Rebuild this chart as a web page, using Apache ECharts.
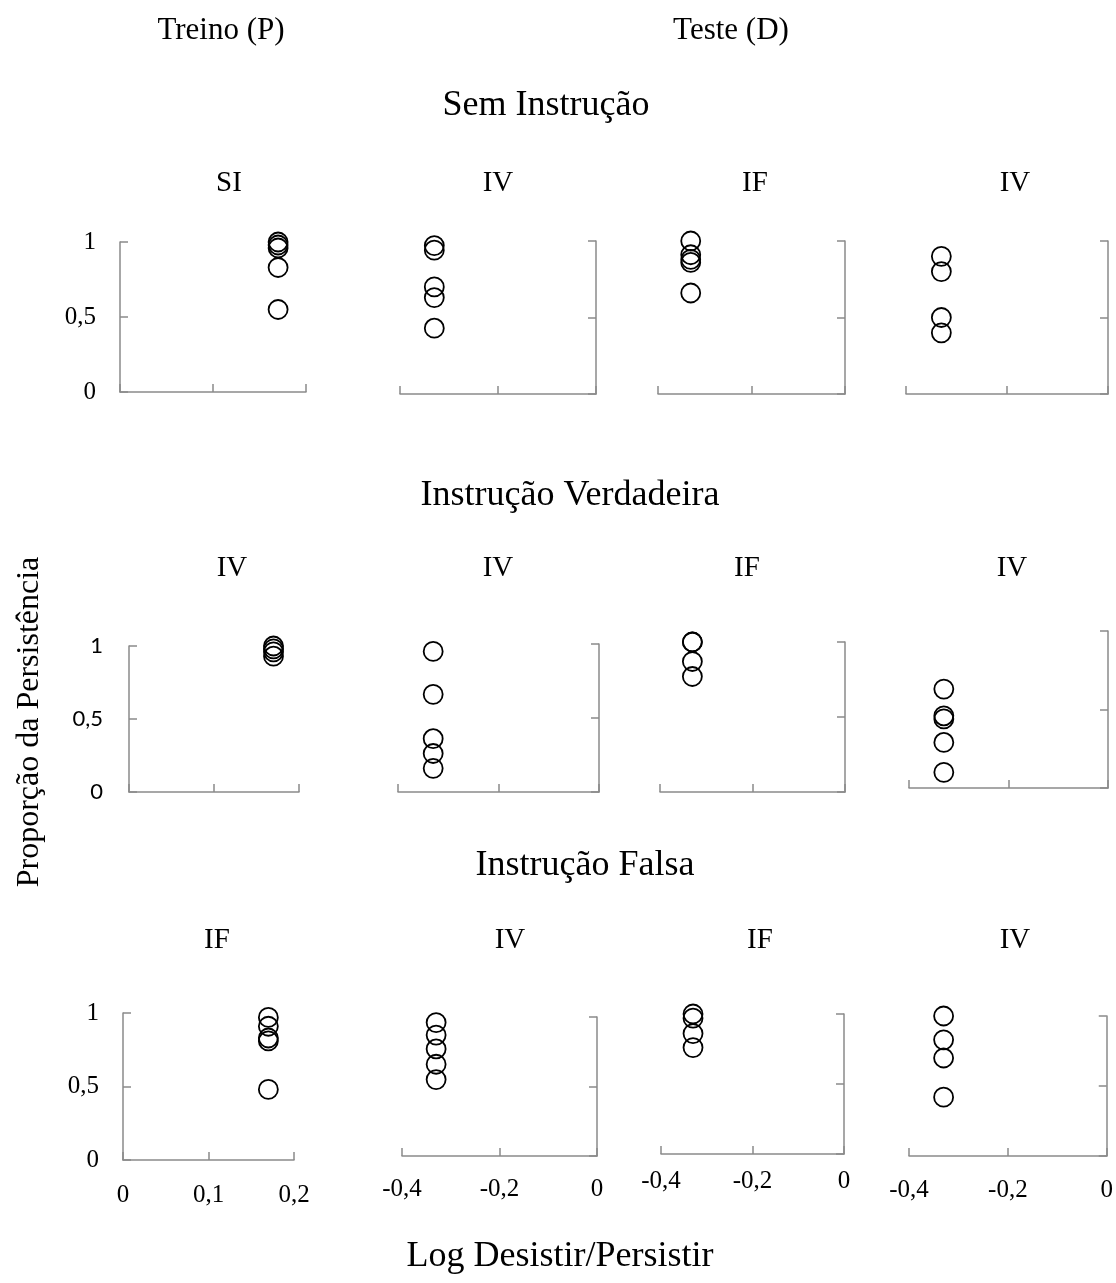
<!DOCTYPE html>
<html>
<head>
<meta charset="utf-8">
<script src="https://cdn.jsdelivr.net/npm/echarts@6/dist/echarts.min.js"></script>
<style>
  html, body { margin: 0; padding: 0; background: #fff; }
  #chart { width: 1116px; height: 1283px; }
</style>
</head>
<body>
<div id="chart"></div>
<script>
// Phase headers, conditions and panel labels
const phaseHeaders = ['Treino (P)', 'Teste (D)'];
const conditions = ['Sem Instrução', 'Instrução Verdadeira', 'Instrução Falsa'];
const panelTitles = [
  ['SI', 'IV', 'IF', 'IV'],
  ['IV', 'IV', 'IF', 'IV'],
  ['IF', 'IV', 'IF', 'IV']
];

// Log ratio (desistir/persistir) of each panel's schedule
const panelLogRatio = [0.17, -0.33, -0.33, -0.33];

// Proportion of persistence per participant, one list per panel
const semInstrucao = [
  [1.0, 0.98, 0.96, 0.83, 0.55],
  [0.97, 0.94, 0.70, 0.63, 0.43],
  [1.0, 0.91, 0.88, 0.86, 0.66],
  [0.90, 0.80, 0.50, 0.40]
];
const instrucaoVerdadeira = [
  [1.0, 0.98, 0.96, 0.93],
  [0.95, 0.66, 0.36, 0.26, 0.16],
  [1.0, 1.0, 0.87, 0.77],
  [0.63, 0.46, 0.44, 0.29, 0.10]
];
const instrucaoFalsa = [
  [0.97, 0.91, 0.83, 0.81, 0.48],
  [0.96, 0.87, 0.77, 0.66, 0.55],
  [1.0, 0.97, 0.86, 0.76],
  [1.0, 0.83, 0.70, 0.42]
];

// Axis ticks
const trainTicks = { min: 0, max: 0.2, interval: 0.1 };
const testTicks = { min: -0.4, max: 0, interval: 0.2 };
const yTicks = { min: 0, max: 1, interval: 0.5 };

const rowsData = [semInstrucao, instrucaoVerdadeira, instrucaoFalsa];

// Plot boxes (left, top, width, height) for each row/column
const boxes = [
  [[120, 242, 186, 150], [400, 241, 196, 153], [658, 241, 187, 153], [906, 241, 202, 153]],
  [[129, 646, 170, 146], [398, 644, 201, 148], [660, 642, 185, 150], [909, 631, 199, 157]],
  [[123, 1013, 171, 147], [402, 1017, 195, 139], [661, 1014, 183, 140], [909, 1016, 198, 140]]
];
const xLabelMargin = [23, 21, 15, 22];

const SERIF = '"Liberation Serif", "Times New Roman", serif';
const SANS = 'Lato, "Liberation Sans", sans-serif';
const AXIS_GREY = '#8a8a8a';

const fmt = v => String(+Number(v).toFixed(1)).replace('.', ',');

const grids = [], xAxes = [], yAxes = [], series = [];
let idx = 0;
for (let r = 0; r < 3; r++) {
  for (let c = 0; c < 4; c++) {
    const b = boxes[r][c];
    grids.push({ left: b[0], top: b[1], width: b[2], height: b[3], containLabel: false });
    const ticks = c === 0 ? trainTicks : testTicks;
    const showX = r === 2;
    xAxes.push({
      gridIndex: idx, type: 'value',
      min: ticks.min, max: ticks.max, interval: ticks.interval,
      axisLine: { show: true, onZero: false, lineStyle: { color: AXIS_GREY, width: 1.5 } },
      axisTick: { show: true, inside: true, length: 8, lineStyle: { color: AXIS_GREY, width: 1.5 } },
      splitLine: { show: false },
      axisLabel: {
        show: showX, formatter: fmt, margin: xLabelMargin[c],
        fontFamily: SERIF, fontSize: 25, color: '#000',
        showMinLabel: true, showMaxLabel: true
      }
    });
    const sansRow = r === 1;
    yAxes.push({
      gridIndex: idx, type: 'value', position: c === 0 ? 'left' : 'right',
      min: yTicks.min, max: yTicks.max, interval: yTicks.interval,
      axisLine: { show: true, lineStyle: { color: AXIS_GREY, width: 1.5 } },
      axisTick: { show: true, inside: true, length: 8, lineStyle: { color: AXIS_GREY, width: 1.5 } },
      splitLine: { show: false },
      axisLabel: {
        show: c === 0, formatter: fmt, margin: sansRow ? 26 : 24,
        fontFamily: sansRow ? SANS : SERIF, fontSize: sansRow ? 22 : 25, color: '#000'
      }
    });
    series.push({
      type: 'scatter', xAxisIndex: idx, yAxisIndex: idx,
      data: rowsData[r][c].map(v => [panelLogRatio[c], v]),
      symbol: 'circle', symbolSize: 19, clip: false,
      itemStyle: { color: 'rgba(0,0,0,0)', borderColor: '#000', borderWidth: 1.8, opacity: 1 },
      emphasis: { disabled: true },
      silent: true
    });
    idx++;
  }
}

// Text placed around the panels
const texts = [];
const addText = (text, x, y, size, extra) => {
  texts.push(Object.assign({
    type: 'text', x: x, y: y,
    style: { text: text, font: size + 'px ' + SERIF, fill: '#000', textAlign: 'center', textVerticalAlign: 'middle' }
  }, extra || {}));
};
addText(phaseHeaders[0], 221, 31, 31);
addText(phaseHeaders[1], 731, 31, 31);
const condY = [106, 496, 866];
const condX = [546, 570, 585];
conditions.forEach((t, i) => addText(t, condX[i], condY[i], 36));
const titleY = [183, 568, 940];
const titleX = [
  [229, 498, 755, 1015],
  [232, 498, 747, 1012],
  [217, 510, 760, 1015]
];
panelTitles.forEach((row, r) => row.forEach((t, c) => addText(t, titleX[r][c], titleY[r], 29)));
addText('Log Desistir/Persistir', 560, 1257, 36);
addText('Proporção da Persistência', 30, 722, 32, { rotation: Math.PI / 2 });

const chart = echarts.init(document.getElementById('chart'), null, { renderer: 'canvas' });
chart.setOption({
  animation: false,
  backgroundColor: '#fff',
  grid: grids,
  xAxis: xAxes,
  yAxis: yAxes,
  series: series,
  graphic: texts
});
</script>
</body>
</html>
